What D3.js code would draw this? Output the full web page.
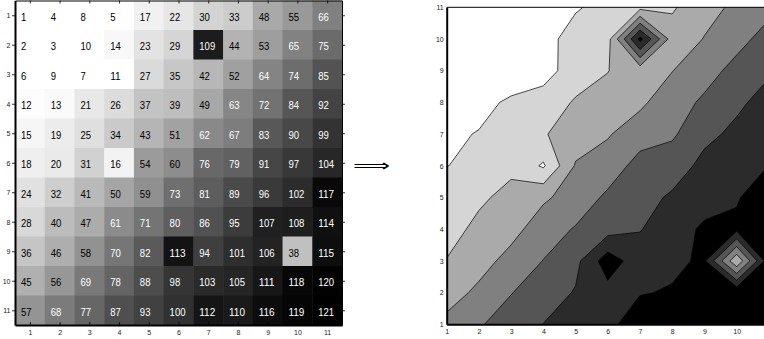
<!DOCTYPE html>
<html>
<head>
<meta charset="utf-8">
<script src="https://cdn.jsdelivr.net/npm/d3@7"></script>
<style>
  body { margin: 0; background: #fff; }
  svg { display: block; font-family: "Liberation Sans", Arial, sans-serif; }
  .axis text { font-size: 7px; fill: #222; }
  .axis line { stroke: #000; stroke-width: 0.8; }
  .cell-label { font-family: "Liberation Sans", Arial, sans-serif; font-size: 11.5px; }
</style>
</head>
<body>
<svg width="764" height="339"></svg>
<script>
// matrix, row 1 at top
const rows = [
  [1, 4, 8, 5, 17, 22, 30, 33, 48, 55, 66],
  [2, 3, 10, 14, 23, 29, 109, 44, 53, 65, 75],
  [6, 9, 7, 11, 27, 35, 42, 52, 64, 74, 85],
  [12, 13, 21, 26, 37, 39, 49, 63, 72, 84, 92],
  [15, 19, 25, 34, 43, 51, 62, 67, 83, 90, 99],
  [18, 20, 31, 16, 54, 60, 76, 79, 91, 97, 104],
  [24, 32, 41, 50, 59, 73, 81, 89, 96, 102, 117],
  [28, 40, 47, 61, 71, 80, 86, 95, 107, 108, 114],
  [36, 46, 58, 70, 82, 113, 94, 101, 106, 38, 115],
  [45, 56, 69, 78, 88, 98, 103, 105, 111, 118, 120],
  [57, 68, 77, 87, 93, 100, 112, 110, 116, 119, 121]
];
const tickValues = d3.range(1, 12);
const contourXTicks = d3.range(1, 11);   // x = 11 falls off the page
// contour levels: 6 even steps between min and max
const levels = d3.range(1, 7).map(k => 1 + k * 120 / 7);

const svg = d3.select("svg");

// ---------- left: matrix image ----------
const xL = d3.scaleLinear().domain([0.5, 11.5]).range([15, 342]);
const yL = d3.scaleLinear().domain([0.5, 11.5]).range([0.5, 325]);
const shade = d3.scaleLinear().domain([11, 121]).range(["#ffffff", "#000000"]).clamp(true);

const cells = rows.flatMap((r, i) => r.map((v, j) => ({row: i + 1, col: j + 1, v: v})));

const left = svg.append("g");
left.selectAll("rect.cell")
  .data(cells)
  .join("rect")
    .attr("class", "cell")
    .attr("x", d => xL(d.col - 0.5))
    .attr("y", d => yL(d.row - 0.5))
    .attr("width", xL(1.5) - xL(0.5) + 0.5)
    .attr("height", yL(1.5) - yL(0.5) + 0.5)
    .attr("fill", d => shade(d.v));

// narrow digits, like the original's condensed font
left.selectAll("text.cell-label")
  .data(cells)
  .join("text")
    .attr("class", "cell-label")
    .attr("x", d => xL(d.col - 0.3))
    .attr("y", d => yL(d.row))
    .attr("dy", 5.7)
    .attr("textLength", d => String(d.v).length * 5.3)
    .attr("lengthAdjust", "spacingAndGlyphs")
    .attr("fill", d => d.v >= 61 ? "#fff" : "#000")
    .text(d => d.v);

left.append("g")
  .attr("class", "axis")
  .attr("transform", "translate(" + xL(0.5) + ",0)")
  .call(d3.axisLeft(yL).tickValues(tickValues).tickSizeInner(3).tickSizeOuter(0).tickPadding(1.5))
  .select(".domain").attr("stroke-width", 2);

left.append("g")
  .attr("class", "axis")
  .attr("transform", "translate(" + xL(11.5) + ",0)")
  .call(d3.axisRight(yL).tickValues(tickValues).tickSizeInner(3).tickSizeOuter(0).tickFormat(""))
  .select(".domain").attr("stroke-width", 1);

left.append("g")
  .attr("class", "axis")
  .attr("transform", "translate(0," + yL(11.5) + ")")
  .call(d3.axisBottom(xL).tickValues(tickValues).tickSizeInner(-3).tickSizeOuter(0).tickPadding(5))
  .select(".domain").attr("stroke-width", 2);

left.append("g")
  .attr("class", "axis")
  .attr("transform", "translate(0," + yL(0.5) + ")")
  .call(d3.axisTop(xL).tickValues(tickValues).tickSizeInner(-3).tickSizeOuter(0).tickFormat(""))
  .select(".domain").attr("stroke-width", 1);

// ---------- arrow ----------
svg.append("text")
  .attr("x", 353)
  .attr("y", 171)
  .attr("textLength", 37)
  .attr("lengthAdjust", "spacingAndGlyphs")
  .style("font-family", "DejaVu Sans")
  .style("font-size", "16px")
  .text("\u27F9");

// ---------- right: filled contour ----------
const xR = d3.scaleLinear().domain([1, 11]).range([446.7, 768.9]);
const yR = d3.scaleLinear().domain([1, 11]).range([324.3, 7.3]);
const band = d3.scaleLinear().domain([0, 6]).range(["#ffffff", "#000000"]);

const right = svg.append("g");
right.append("clipPath").attr("id", "clipR")
  .append("rect")
    .attr("x", xR(1)).attr("y", yR(11))
    .attr("width", xR(11) - xR(1)).attr("height", yR(1) - yR(11));

right.append("rect")
  .attr("x", xR(1)).attr("y", yR(11))
  .attr("width", xR(11) - xR(1)).attr("height", yR(1) - yR(11))
  .attr("fill", band(0));

// grid coords: value (row r, col c) sits at (c - 0.5, r - 0.5); plot y = 12 - row
const proj = d3.geoTransform({
  point: function(x, y) { this.stream.point(xR(x + 0.5), yR(11.5 - y)); }
});
const path = d3.geoPath(proj);
const contours = d3.contours().size([11, 11]).thresholds(levels)(rows.flat());

right.append("g")
  .attr("clip-path", "url(#clipR)")
  .selectAll("path")
  .data(contours)
  .join("path")
    .attr("d", path)
    .attr("fill", (d, i) => band(i + 1))
    .attr("stroke", "#000")
    .attr("stroke-width", 0.7)
    .attr("stroke-linejoin", "round");

right.append("g")
  .attr("class", "axis")
  .attr("transform", "translate(" + xR(1) + ",0)")
  .call(d3.axisLeft(yR).tickValues(tickValues).tickSize(0).tickPadding(3))
  .select(".domain").attr("stroke-width", 2);

right.append("g")
  .attr("class", "axis")
  .attr("transform", "translate(0," + yR(1) + ")")
  .call(d3.axisBottom(xR).tickValues(contourXTicks).tickSize(0).tickPadding(5))
  .select(".domain").attr("stroke-width", 2);

right.append("line")
  .attr("x1", xR(1)).attr("x2", xR(11))
  .attr("y1", yR(11)).attr("y2", yR(11))
  .attr("stroke", "#000").attr("stroke-width", 1);
</script>
</body>
</html>
